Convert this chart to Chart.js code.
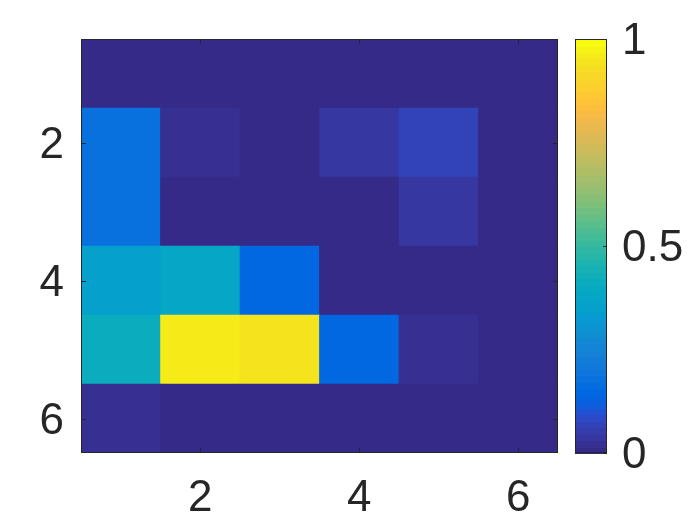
<!DOCTYPE html>
<html>
<head>
<meta charset="utf-8">
<script src="https://cdn.jsdelivr.net/npm/chart.js@4"></script>
<style>
  body { margin: 0; background: #fff; }
  #wrap { position: relative; width: 700px; height: 525px; }
  #heat { position: absolute; left: 0; top: 0; }
  #cbar { position: absolute; left: 560px; top: 0; }
</style>
</head>
<body>
<div id="wrap">
  <canvas id="heat" width="700" height="525"></canvas>
  <canvas id="cbar" width="140" height="525"></canvas>
</div>
<script>
// grid data (row r, column c), values 0..1
const columns = [1, 2, 3, 4, 5, 6];
const rows = [1, 2, 3, 4, 5, 6];
const row1 = [0, 0, 0, 0, 0, 0];
const row2 = [0.175, 0.016, 0, 0.032, 0.063, 0];
const row3 = [0.175, 0, 0, 0, 0.032, 0];
const row4 = [0.35, 0.38, 0.143, 0, 0, 0];
const row5 = [0.41, 0.97, 0.95, 0.143, 0.016, 0];
const row6 = [0.016, 0, 0, 0, 0, 0];
const xTicks = [2, 4, 6];
const yTicks = [2, 4, 6];
const cbTicks = [0, 0.5, 1];

// parula, 64 entries
const parula = [
  [0.2081,0.1663,0.5292],[0.2116,0.1898,0.5777],[0.2123,0.2138,0.6270],[0.2081,0.2386,0.6771],
  [0.1959,0.2645,0.7279],[0.1707,0.2919,0.7792],[0.1253,0.3242,0.8303],[0.0591,0.3598,0.8683],
  [0.0117,0.3875,0.8820],[0.0060,0.4086,0.8828],[0.0165,0.4266,0.8786],[0.0329,0.4430,0.8720],
  [0.0498,0.4586,0.8641],[0.0629,0.4737,0.8554],[0.0723,0.4887,0.8467],[0.0779,0.5040,0.8384],
  [0.0793,0.5200,0.8312],[0.0749,0.5375,0.8263],[0.0641,0.5570,0.8240],[0.0488,0.5772,0.8228],
  [0.0343,0.5966,0.8199],[0.0265,0.6137,0.8135],[0.0239,0.6287,0.8038],[0.0231,0.6418,0.7913],
  [0.0228,0.6535,0.7768],[0.0267,0.6642,0.7607],[0.0384,0.6743,0.7436],[0.0590,0.6838,0.7254],
  [0.0843,0.6928,0.7062],[0.1133,0.7015,0.6859],[0.1453,0.7098,0.6646],[0.1801,0.7177,0.6424],
  [0.2178,0.7250,0.6193],[0.2586,0.7317,0.5954],[0.3022,0.7376,0.5712],[0.3482,0.7424,0.5473],
  [0.3953,0.7459,0.5244],[0.4420,0.7481,0.5033],[0.4871,0.7491,0.4840],[0.5300,0.7491,0.4661],
  [0.5709,0.7485,0.4494],[0.6099,0.7473,0.4337],[0.6473,0.7456,0.4188],[0.6834,0.7435,0.4044],
  [0.7184,0.7411,0.3905],[0.7525,0.7384,0.3768],[0.7858,0.7356,0.3633],[0.8185,0.7327,0.3498],
  [0.8507,0.7299,0.3360],[0.8824,0.7274,0.3217],[0.9139,0.7258,0.3063],[0.9450,0.7261,0.2886],
  [0.9739,0.7314,0.2666],[0.9938,0.7455,0.2403],[0.9990,0.7653,0.2164],[0.9955,0.7861,0.1967],
  [0.9880,0.8066,0.1794],[0.9789,0.8271,0.1633],[0.9697,0.8481,0.1475],[0.9626,0.8705,0.1309],
  [0.9589,0.8949,0.1132],[0.9598,0.9218,0.0948],[0.9661,0.9514,0.0755],[0.9763,0.9831,0.0538]
];

function colorOf(v) {
  const i = Math.max(0, Math.min(63, Math.round(v * 63)));
  const c = parula[i];
  return 'rgb(' + Math.round(c[0] * 255) + ',' + Math.round(c[1] * 255) + ',' + Math.round(c[2] * 255) + ')';
}

const FONT = { family: '"Liberation Sans", Arial, sans-serif', size: 44 };
const INK = '#262626';
Chart.defaults.color = INK;
Chart.defaults.font.family = FONT.family;

const grid = [row1, row2, row3, row4, row5, row6];
const cells = [];
rows.forEach((r, ri) => {
  columns.forEach((c, ci) => {
    cells.push({ x: c, y: [r - 0.5, r + 0.5], v: grid[ri][ci] });
  });
});

const frame = {
  id: 'frame',
  beforeDatasetsDraw(chart) {
    const a = chart.chartArea, ctx = chart.ctx;
    ctx.save();
    ctx.fillStyle = colorOf(0);
    ctx.fillRect(a.left, a.top, a.right - a.left, a.bottom - a.top);
    ctx.restore();
  },
  afterDraw(chart) {
    const a = chart.chartArea, ctx = chart.ctx;
    const xs = chart.scales.x, ys = chart.scales.y;
    ctx.save();
    ctx.strokeStyle = INK;
    ctx.lineWidth = 1;
    ctx.strokeRect(Math.round(a.left) + 0.5, Math.round(a.top) + 0.5,
      Math.round(a.right - a.left) - 1, Math.round(a.bottom - a.top) - 1);
    const len = 5;
    ctx.beginPath();
    xTicks.forEach(t => {
      const px = Math.round(xs.getPixelForValue(t)) + 0.5;
      ctx.moveTo(px, a.bottom); ctx.lineTo(px, a.bottom - len);
      ctx.moveTo(px, a.top); ctx.lineTo(px, a.top + len);
    });
    yTicks.forEach(t => {
      const py = Math.round(ys.getPixelForValue(t)) + 0.5;
      ctx.moveTo(a.left, py); ctx.lineTo(a.left + len, py);
      ctx.moveTo(a.right, py); ctx.lineTo(a.right - len, py);
    });
    ctx.stroke();
    ctx.restore();
  }
};

new Chart(document.getElementById('heat'), {
  type: 'bar',
  data: {
    datasets: [{
      data: cells,
      backgroundColor: ctx => colorOf(ctx.raw ? ctx.raw.v : 0),
      borderWidth: 0,
      barPercentage: 1,
      categoryPercentage: 1
    }]
  },
  options: {
    responsive: false,
    animation: false,
    layout: { padding: { top: 39, right: 142, bottom: 0, left: 0 } },
    plugins: { legend: { display: false }, tooltip: { enabled: false } },
    scales: {
      x: {
        type: 'linear',
        min: 0.5,
        max: 6.5,
        offset: false,
        grid: { display: false, drawTicks: false, offset: false },
        border: { display: false },
        afterBuildTicks: s => { s.ticks = xTicks.map(v => ({ value: v })); },
        afterFit: s => { s.height = 72; s.paddingLeft = 0; s.paddingRight = 0; },
        ticks: { font: FONT, padding: 19, maxRotation: 0 }
      },
      y: {
        type: 'linear',
        min: 0.5,
        max: 6.5,
        reverse: true,
        grid: { display: false, drawTicks: false },
        border: { display: false },
        afterBuildTicks: s => { s.ticks = yTicks.map(v => ({ value: v })); },
        afterFit: s => { s.width = 81; s.paddingTop = 0; s.paddingBottom = 0; },
        ticks: { font: FONT, padding: 17, labelOffset: 3 }
      }
    }
  },
  plugins: [frame]
});

// colorbar
const cbarPaint = {
  id: 'cbarPaint',
  beforeDatasetsDraw(chart) {
    const a = chart.chartArea, ctx = chart.ctx;
    const n = parula.length;
    const h = (a.bottom - a.top) / n;
    ctx.save();
    for (let i = 0; i < n; i++) {
      ctx.fillStyle = colorOf(i / (n - 1));
      const y0 = a.bottom - (i + 1) * h;
      ctx.fillRect(a.left, Math.floor(y0), a.right - a.left, Math.ceil(h) + 1);
    }
    ctx.restore();
  },
  afterDraw(chart) {
    const a = chart.chartArea, ctx = chart.ctx, ys = chart.scales.y;
    ctx.save();
    ctx.strokeStyle = INK;
    ctx.lineWidth = 1;
    ctx.strokeRect(Math.round(a.left) + 0.5, Math.round(a.top) + 0.5,
      Math.round(a.right - a.left) - 1, Math.round(a.bottom - a.top) - 1);
    ctx.beginPath();
    cbTicks.forEach(t => {
      const py = Math.round(ys.getPixelForValue(t)) + 0.5;
      ctx.moveTo(a.right, py); ctx.lineTo(a.right - 4, py);
    });
    ctx.stroke();
    ctx.restore();
  }
};

new Chart(document.getElementById('cbar'), {
  type: 'bar',
  data: { labels: [''], datasets: [] },
  options: {
    responsive: false,
    animation: false,
    layout: { padding: { top: 39, right: 0, bottom: 72, left: 15 } },
    plugins: { legend: { display: false }, tooltip: { enabled: false } },
    scales: {
      x: { display: false },
      y: {
        position: 'right',
        min: 0,
        max: 1,
        grid: { display: false, drawTicks: false },
        border: { display: false },
        afterBuildTicks: s => { s.ticks = cbTicks.map(v => ({ value: v })); },
        afterFit: s => { s.width = 93; s.paddingTop = 0; s.paddingBottom = 0; },
        ticks: { font: FONT, padding: 15, labelOffset: 3, callback: v => String(v) }
      }
    }
  },
  plugins: [cbarPaint]
});
</script>
</body>
</html>
